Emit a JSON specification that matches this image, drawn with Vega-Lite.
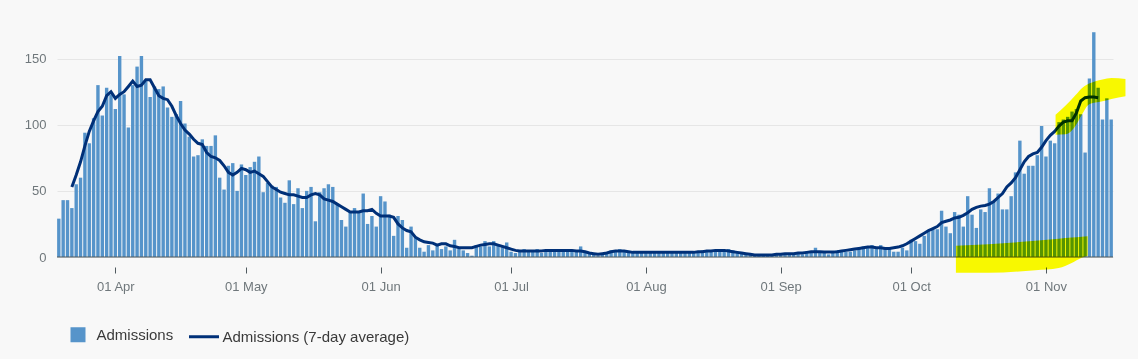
{
  "$schema": "https://vega.github.io/schema/vega-lite/v6.json",
  "width": 1056,
  "height": 238,
  "autosize": {"type": "none"},
  "padding": {"left": 57, "top": 19, "right": 25, "bottom": 102},
  "background": "#f8f8f8",
  "config": {
    "view": {"stroke": null},
    "font": "Liberation Sans",
    "axisX": {"domain": false, "grid": false, "ticks": true, "tickSize": 6, "tickColor": "#505a5f", "offset": 10, "labelPadding": 7, "labelFontSize": 13, "labelColor": "#6f777b", "labelFont": "Liberation Sans"},
    "axisY": {"domain": false, "ticks": false, "tickSize": 0, "labelPadding": 11, "labelFontSize": 13, "labelColor": "#6f777b", "labelFont": "Liberation Sans", "grid": true, "gridColor": "#e6e6e6", "gridWidth": 1}
  },
  "datasets": {
    "adm": [
      {"d":"2020-03-19T00:00","v":29},{"d":"2020-03-20T00:00","v":43},{"d":"2020-03-21T00:00","v":43},
      {"d":"2020-03-22T00:00","v":37,"a":53},{"d":"2020-03-23T00:00","v":55,"a":62},{"d":"2020-03-24T00:00","v":60,"a":72},
      {"d":"2020-03-25T00:00","v":94,"a":84},{"d":"2020-03-26T00:00","v":86,"a":95},{"d":"2020-03-27T00:00","v":105,"a":103},
      {"d":"2020-03-28T00:00","v":130,"a":110},{"d":"2020-03-29T00:00","v":107,"a":114},{"d":"2020-03-30T00:00","v":128,"a":122},
      {"d":"2020-03-31T00:00","v":123,"a":125},
      {"d":"2020-04-01T00:00","v":112,"a":120},{"d":"2020-04-02T00:00","v":152,"a":123},{"d":"2020-04-03T00:00","v":123,"a":125},
      {"d":"2020-04-04T00:00","v":98,"a":129},{"d":"2020-04-05T00:00","v":130,"a":133},{"d":"2020-04-06T00:00","v":144,"a":129},
      {"d":"2020-04-07T00:00","v":152,"a":130},{"d":"2020-04-08T00:00","v":133,"a":134},{"d":"2020-04-09T00:00","v":121,"a":134},
      {"d":"2020-04-10T00:00","v":129,"a":128},{"d":"2020-04-11T00:00","v":127,"a":122},{"d":"2020-04-12T00:00","v":129,"a":120},
      {"d":"2020-04-13T00:00","v":113,"a":119},{"d":"2020-04-14T00:00","v":106,"a":114},{"d":"2020-04-15T00:00","v":108,"a":107},
      {"d":"2020-04-16T00:00","v":118,"a":101},{"d":"2020-04-17T00:00","v":101,"a":96},{"d":"2020-04-18T00:00","v":91,"a":93},
      {"d":"2020-04-19T00:00","v":76,"a":89},{"d":"2020-04-20T00:00","v":77,"a":86},{"d":"2020-04-21T00:00","v":89,"a":85},
      {"d":"2020-04-22T00:00","v":84,"a":79},{"d":"2020-04-23T00:00","v":84,"a":76},{"d":"2020-04-24T00:00","v":92,"a":75},
      {"d":"2020-04-25T00:00","v":60,"a":73},{"d":"2020-04-26T00:00","v":51,"a":69},{"d":"2020-04-27T00:00","v":69,"a":64},
      {"d":"2020-04-28T00:00","v":71,"a":62},{"d":"2020-04-29T00:00","v":50,"a":64},{"d":"2020-04-30T00:00","v":70,"a":67},
      {"d":"2020-05-01T00:00","v":62,"a":66},{"d":"2020-05-02T00:00","v":68,"a":64},{"d":"2020-05-03T00:00","v":72,"a":65},
      {"d":"2020-05-04T00:00","v":76,"a":63},{"d":"2020-05-05T00:00","v":49,"a":61},{"d":"2020-05-06T00:00","v":56,"a":57},
      {"d":"2020-05-07T00:00","v":54,"a":53},{"d":"2020-05-08T00:00","v":53,"a":51},{"d":"2020-05-09T00:00","v":45,"a":49},
      {"d":"2020-05-10T00:00","v":41,"a":48},{"d":"2020-05-11T00:00","v":58,"a":47},{"d":"2020-05-12T00:00","v":40,"a":47},
      {"d":"2020-05-13T00:00","v":52,"a":46},{"d":"2020-05-14T00:00","v":37,"a":45},{"d":"2020-05-15T00:00","v":50,"a":45},
      {"d":"2020-05-16T00:00","v":53,"a":47},{"d":"2020-05-17T00:00","v":27,"a":48},{"d":"2020-05-18T00:00","v":49,"a":47},
      {"d":"2020-05-19T00:00","v":52,"a":44},{"d":"2020-05-20T00:00","v":55,"a":43},{"d":"2020-05-21T00:00","v":53,"a":42},
      {"d":"2020-05-22T00:00","v":40,"a":40},{"d":"2020-05-23T00:00","v":28,"a":38},{"d":"2020-05-24T00:00","v":23,"a":36},
      {"d":"2020-05-25T00:00","v":34,"a":34},{"d":"2020-05-26T00:00","v":37,"a":34},{"d":"2020-05-27T00:00","v":34,"a":34},
      {"d":"2020-05-28T00:00","v":48,"a":35},{"d":"2020-05-29T00:00","v":25,"a":35},{"d":"2020-05-30T00:00","v":31,"a":36},
      {"d":"2020-05-31T00:00","v":23,"a":33},
      {"d":"2020-06-01T00:00","v":46,"a":31},{"d":"2020-06-02T00:00","v":42,"a":31},{"d":"2020-06-03T00:00","v":32,"a":31},
      {"d":"2020-06-04T00:00","v":16,"a":30},{"d":"2020-06-05T00:00","v":31,"a":25},{"d":"2020-06-06T00:00","v":28,"a":22},
      {"d":"2020-06-07T00:00","v":7,"a":20},{"d":"2020-06-08T00:00","v":23,"a":19},{"d":"2020-06-09T00:00","v":15,"a":15},
      {"d":"2020-06-10T00:00","v":7,"a":13},{"d":"2020-06-11T00:00","v":4,"a":11.5},{"d":"2020-06-12T00:00","v":9,"a":11},
      {"d":"2020-06-13T00:00","v":5,"a":10.5},{"d":"2020-06-14T00:00","v":9,"a":9},{"d":"2020-06-15T00:00","v":6,"a":10},
      {"d":"2020-06-16T00:00","v":8,"a":10},{"d":"2020-06-17T00:00","v":5,"a":8.5},{"d":"2020-06-18T00:00","v":13,"a":8},
      {"d":"2020-06-19T00:00","v":6,"a":7},{"d":"2020-06-20T00:00","v":5,"a":7},{"d":"2020-06-21T00:00","v":3,"a":7},
      {"d":"2020-06-22T00:00","v":1,"a":7},{"d":"2020-06-23T00:00","v":9,"a":8},{"d":"2020-06-24T00:00","v":8,"a":9},
      {"d":"2020-06-25T00:00","v":12,"a":9.5},{"d":"2020-06-26T00:00","v":8,"a":10},{"d":"2020-06-27T00:00","v":12,"a":10},
      {"d":"2020-06-28T00:00","v":9,"a":9},{"d":"2020-06-29T00:00","v":8,"a":8},{"d":"2020-06-30T00:00","v":11,"a":7},
      {"d":"2020-07-01T00:00","v":4,"a":6},{"d":"2020-07-02T00:00","v":3,"a":5},{"d":"2020-07-03T00:00","v":5,"a":4.5},
      {"d":"2020-07-04T00:00","v":6,"a":4.5},{"d":"2020-07-05T00:00","v":5,"a":4.5},{"d":"2020-07-06T00:00","v":4,"a":4.5},
      {"d":"2020-07-07T00:00","v":6,"a":4.5},{"d":"2020-07-08T00:00","v":3,"a":4.5},{"d":"2020-07-09T00:00","v":5,"a":5},
      {"d":"2020-07-10T00:00","v":6,"a":5},{"d":"2020-07-11T00:00","v":5,"a":5},{"d":"2020-07-12T00:00","v":4,"a":5},
      {"d":"2020-07-13T00:00","v":6,"a":5},{"d":"2020-07-14T00:00","v":5,"a":5},{"d":"2020-07-15T00:00","v":4,"a":5},
      {"d":"2020-07-16T00:00","v":5,"a":4.5},{"d":"2020-07-17T00:00","v":8,"a":4.5},{"d":"2020-07-18T00:00","v":4,"a":4},
      {"d":"2020-07-19T00:00","v":3,"a":3},{"d":"2020-07-20T00:00","v":2,"a":2.5},{"d":"2020-07-21T00:00","v":1,"a":2},
      {"d":"2020-07-22T00:00","v":2,"a":2.5},{"d":"2020-07-23T00:00","v":3,"a":3},{"d":"2020-07-24T00:00","v":5,"a":4},
      {"d":"2020-07-25T00:00","v":4,"a":4.5},{"d":"2020-07-26T00:00","v":6,"a":4.5},{"d":"2020-07-27T00:00","v":5,"a":4.5},
      {"d":"2020-07-28T00:00","v":3,"a":4},{"d":"2020-07-29T00:00","v":4,"a":3.5},{"d":"2020-07-30T00:00","v":3,"a":3.5},
      {"d":"2020-07-31T00:00","v":4,"a":3.5},
      {"d":"2020-08-01T00:00","v":3,"a":3.5},{"d":"2020-08-02T00:00","v":4,"a":3.5},{"d":"2020-08-03T00:00","v":3,"a":3.5},
      {"d":"2020-08-04T00:00","v":4,"a":3.5},{"d":"2020-08-05T00:00","v":3,"a":3.5},{"d":"2020-08-06T00:00","v":4,"a":3.5},
      {"d":"2020-08-07T00:00","v":3,"a":3.5},{"d":"2020-08-08T00:00","v":3,"a":3.5},{"d":"2020-08-09T00:00","v":4,"a":3.5},
      {"d":"2020-08-10T00:00","v":3,"a":3.5},{"d":"2020-08-11T00:00","v":4,"a":3.5},{"d":"2020-08-12T00:00","v":3,"a":3.5},
      {"d":"2020-08-13T00:00","v":4,"a":4},{"d":"2020-08-14T00:00","v":5,"a":4},{"d":"2020-08-15T00:00","v":4,"a":4.5},
      {"d":"2020-08-16T00:00","v":5,"a":4.5},{"d":"2020-08-17T00:00","v":4,"a":5},{"d":"2020-08-18T00:00","v":5,"a":5},
      {"d":"2020-08-19T00:00","v":4,"a":5},{"d":"2020-08-20T00:00","v":6,"a":4.5},{"d":"2020-08-21T00:00","v":5,"a":4},
      {"d":"2020-08-22T00:00","v":3,"a":3.5},{"d":"2020-08-23T00:00","v":3,"a":3},{"d":"2020-08-24T00:00","v":2,"a":2.5},
      {"d":"2020-08-25T00:00","v":2,"a":2},{"d":"2020-08-26T00:00","v":1,"a":1.5},{"d":"2020-08-27T00:00","v":1,"a":1.5},
      {"d":"2020-08-28T00:00","v":1,"a":1.5},{"d":"2020-08-29T00:00","v":2,"a":1.5},{"d":"2020-08-30T00:00","v":1,"a":1.5},
      {"d":"2020-08-31T00:00","v":2,"a":2},
      {"d":"2020-09-01T00:00","v":2,"a":2},{"d":"2020-09-02T00:00","v":3,"a":2.5},{"d":"2020-09-03T00:00","v":2,"a":2.5},
      {"d":"2020-09-04T00:00","v":3,"a":2.5},{"d":"2020-09-05T00:00","v":3,"a":3},{"d":"2020-09-06T00:00","v":2,"a":3},
      {"d":"2020-09-07T00:00","v":4,"a":3.5},{"d":"2020-09-08T00:00","v":4,"a":4},{"d":"2020-09-09T00:00","v":7,"a":4},
      {"d":"2020-09-10T00:00","v":4,"a":4},{"d":"2020-09-11T00:00","v":3,"a":3.8},{"d":"2020-09-12T00:00","v":2,"a":3.8},
      {"d":"2020-09-13T00:00","v":4,"a":3.8},{"d":"2020-09-14T00:00","v":5,"a":4},{"d":"2020-09-15T00:00","v":5,"a":4.5},
      {"d":"2020-09-16T00:00","v":4,"a":5},{"d":"2020-09-17T00:00","v":4,"a":5.5},{"d":"2020-09-18T00:00","v":5,"a":6},
      {"d":"2020-09-19T00:00","v":7,"a":6.5},{"d":"2020-09-20T00:00","v":8,"a":7},{"d":"2020-09-21T00:00","v":8,"a":7.5},
      {"d":"2020-09-22T00:00","v":9,"a":7.5},{"d":"2020-09-23T00:00","v":6,"a":7},{"d":"2020-09-24T00:00","v":9,"a":7},
      {"d":"2020-09-25T00:00","v":6,"a":6.5},{"d":"2020-09-26T00:00","v":6,"a":6.5},{"d":"2020-09-27T00:00","v":4,"a":7},
      {"d":"2020-09-28T00:00","v":4,"a":7.5},{"d":"2020-09-29T00:00","v":7,"a":8.5},{"d":"2020-09-30T00:00","v":5,"a":10},
      {"d":"2020-10-01T00:00","v":13,"a":12},{"d":"2020-10-02T00:00","v":12,"a":14},{"d":"2020-10-03T00:00","v":10,"a":16},
      {"d":"2020-10-04T00:00","v":16,"a":18},{"d":"2020-10-05T00:00","v":19,"a":20},{"d":"2020-10-06T00:00","v":21,"a":21.5},
      {"d":"2020-10-07T00:00","v":21,"a":23},{"d":"2020-10-08T00:00","v":35,"a":26},{"d":"2020-10-09T00:00","v":23,"a":27},
      {"d":"2020-10-10T00:00","v":18,"a":28},{"d":"2020-10-11T00:00","v":34,"a":29.5},{"d":"2020-10-12T00:00","v":32,"a":30},
      {"d":"2020-10-13T00:00","v":23,"a":31.5},{"d":"2020-10-14T00:00","v":46,"a":33.5},{"d":"2020-10-15T00:00","v":32,"a":36},
      {"d":"2020-10-16T00:00","v":22,"a":37.5},{"d":"2020-10-17T00:00","v":36,"a":38.5},{"d":"2020-10-18T00:00","v":34,"a":39},
      {"d":"2020-10-19T00:00","v":52,"a":40},{"d":"2020-10-20T00:00","v":42,"a":42},{"d":"2020-10-21T00:00","v":48,"a":45},
      {"d":"2020-10-22T00:00","v":36,"a":48},{"d":"2020-10-23T00:00","v":36,"a":53},{"d":"2020-10-24T00:00","v":46,"a":56},
      {"d":"2020-10-25T00:00","v":64,"a":60},{"d":"2020-10-26T00:00","v":88,"a":66},{"d":"2020-10-27T00:00","v":63,"a":72},
      {"d":"2020-10-28T00:00","v":69,"a":76},{"d":"2020-10-29T00:00","v":69,"a":78},{"d":"2020-10-30T00:00","v":77,"a":79},
      {"d":"2020-10-31T00:00","v":99,"a":83},
      {"d":"2020-11-01T00:00","v":76,"a":88},{"d":"2020-11-02T00:00","v":88,"a":92},{"d":"2020-11-03T00:00","v":86,"a":95},
      {"d":"2020-11-04T00:00","v":102,"a":99},{"d":"2020-11-05T00:00","v":104,"a":102},{"d":"2020-11-06T00:00","v":106,"a":103},
      {"d":"2020-11-07T00:00","v":110,"a":103},{"d":"2020-11-08T00:00","v":112,"a":109},{"d":"2020-11-09T00:00","v":108,"a":118},
      {"d":"2020-11-10T00:00","v":79,"a":120.5},{"d":"2020-11-11T00:00","v":135,"a":121},{"d":"2020-11-12T00:00","v":170,"a":121},
      {"d":"2020-11-13T00:00","v":128,"a":120.5},{"d":"2020-11-14T00:00","v":104},{"d":"2020-11-15T00:00","v":120},
      {"d":"2020-11-16T00:00","v":104}
    ],
    "hlb": [
      {"d":"2020-10-11T07:00","hi":8.5,"lo":-12},
      {"d":"2020-10-18T19:00","hi":9.7,"lo":-12},
      {"d":"2020-10-29T14:00","hi":12.3,"lo":-10},
      {"d":"2020-11-03T22:00","hi":13.8,"lo":-8.3},
      {"d":"2020-11-06T22:00","hi":14.7,"lo":-4.5},
      {"d":"2020-11-09T05:00","hi":15.3,"lo":-0.5},
      {"d":"2020-11-10T14:00","hi":15.6,"lo":1}
    ],
    "hlt": [
      {"d":"2020-11-03T05:00","hi":107.6,"lo":92.5},
      {"d":"2020-11-05T12:30","hi":114.5,"lo":92.8},
      {"d":"2020-11-07T19:30","hi":122.5,"lo":99.3},
      {"d":"2020-11-09T04:30","hi":127.5,"lo":107.2},
      {"d":"2020-11-10T19:00","hi":131,"lo":115.2},
      {"d":"2020-11-12T09:30","hi":133,"lo":116.8},
      {"d":"2020-11-14T00:00","hi":134.2,"lo":117.8},
      {"d":"2020-11-16T01:40","hi":135.4,"lo":119.5},
      {"d":"2020-11-19T06:45","hi":134.6,"lo":121.5}
    ]
  },
  "layer": [
    {
      "data": {"name": "adm"},
      "mark": {"type": "bar", "width": 3.4},
      "encoding": {
        "x": {"field": "d", "type": "temporal", "scale": {"domain": [{"year": 2020, "month": 3, "date": 18, "hours": 14}, {"year": 2020, "month": 11, "date": 16, "hours": 10}], "nice": false, "padding": 0}, "axis": {"title": null, "format": "%d %b", "values": [{"year": 2020, "month": 4, "date": 1}, {"year": 2020, "month": 5, "date": 1}, {"year": 2020, "month": 6, "date": 1}, {"year": 2020, "month": 7, "date": 1}, {"year": 2020, "month": 8, "date": 1}, {"year": 2020, "month": 9, "date": 1}, {"year": 2020, "month": 10, "date": 1}, {"year": 2020, "month": 11, "date": 1}]}},
        "y": {"field": "v", "type": "quantitative", "scale": {"domain": [0, 180], "nice": false}, "axis": {"title": null, "values": [0, 50, 100, 150]}},
        "color": {"datum": "Admissions", "scale": {"domain": ["Admissions", "Admissions (7-day average)"], "range": ["#5694ca", "#003078"]},
          "legend": {"title": null, "orient": "none", "legendX": 6, "legendY": 299, "direction": "horizontal", "padding": 0, "labelFontSize": 15, "labelColor": "#3a3a3a", "labelFont": "Liberation Sans", "labelOffset": 2, "symbolOffset": -1.5, "columnPadding": 9, "symbolSize": 900, "symbolStrokeWidth": 3, "labelLimit": 0,
            "encode": {"symbols": {"update": {
              "shape": {"signal": "datum.value === 'Admissions' ? 'M-0.4,-0.4H0.4V0.4H-0.4Z' : 'stroke'"},
              "fill": {"signal": "datum.value === 'Admissions' ? '#5694ca' : 'transparent'"},
              "stroke": {"signal": "datum.value === 'Admissions' ? 'transparent' : '#003078'"},
              "opacity": {"value": 1}
            }}}}}
      }
    },
    {
      "data": {"values": [{}]},
      "mark": {"type": "rule", "color": "#505a5f", "strokeWidth": 1},
      "encoding": {
        "y": {"datum": 0, "type": "quantitative", "scale": {"domain": [0, 180], "nice": false}, "axis": {"title": null, "values": [0, 50, 100, 150]}}
      }
    },
    {
      "data": {"name": "adm"},
      "mark": {"type": "line", "strokeWidth": 3},
      "encoding": {
        "x": {"field": "d", "type": "temporal", "scale": {"domain": [{"year": 2020, "month": 3, "date": 18, "hours": 14}, {"year": 2020, "month": 11, "date": 16, "hours": 10}], "nice": false, "padding": 0}, "axis": {"title": null, "format": "%d %b", "values": [{"year": 2020, "month": 4, "date": 1}, {"year": 2020, "month": 5, "date": 1}, {"year": 2020, "month": 6, "date": 1}, {"year": 2020, "month": 7, "date": 1}, {"year": 2020, "month": 8, "date": 1}, {"year": 2020, "month": 9, "date": 1}, {"year": 2020, "month": 10, "date": 1}, {"year": 2020, "month": 11, "date": 1}]}},
        "y": {"field": "a", "type": "quantitative", "scale": {"domain": [0, 180], "nice": false}, "axis": {"title": null, "values": [0, 50, 100, 150]}},
        "color": {"datum": "Admissions (7-day average)", "scale": {"domain": ["Admissions", "Admissions (7-day average)"], "range": ["#5694ca", "#003078"]},
          "legend": {"title": null, "orient": "none", "legendX": 6, "legendY": 299, "direction": "horizontal", "padding": 0, "labelFontSize": 15, "labelColor": "#3a3a3a", "labelFont": "Liberation Sans", "labelOffset": 2, "symbolOffset": -1.5, "columnPadding": 9, "symbolSize": 900, "symbolStrokeWidth": 3, "labelLimit": 0,
            "encode": {"symbols": {"update": {
              "shape": {"signal": "datum.value === 'Admissions' ? 'M-0.4,-0.4H0.4V0.4H-0.4Z' : 'stroke'"},
              "fill": {"signal": "datum.value === 'Admissions' ? '#5694ca' : 'transparent'"},
              "stroke": {"signal": "datum.value === 'Admissions' ? 'transparent' : '#003078'"},
              "opacity": {"value": 1}
            }}}}}
      }
    },
    {
      "data": {"name": "hlb"},
      "mark": {"type": "area", "color": "#ffff00", "blend": "multiply", "opacity": 1, "interpolate": "monotone"},
      "encoding": {
        "x": {"field": "d", "type": "temporal", "scale": {"domain": [{"year": 2020, "month": 3, "date": 18, "hours": 14}, {"year": 2020, "month": 11, "date": 16, "hours": 10}], "nice": false, "padding": 0}, "axis": {"title": null, "format": "%d %b", "values": [{"year": 2020, "month": 4, "date": 1}, {"year": 2020, "month": 5, "date": 1}, {"year": 2020, "month": 6, "date": 1}, {"year": 2020, "month": 7, "date": 1}, {"year": 2020, "month": 8, "date": 1}, {"year": 2020, "month": 9, "date": 1}, {"year": 2020, "month": 10, "date": 1}, {"year": 2020, "month": 11, "date": 1}]}},
        "y": {"field": "hi", "type": "quantitative", "scale": {"domain": [0, 180], "nice": false}, "axis": {"title": null, "values": [0, 50, 100, 150]}},
        "y2": {"field": "lo"}
      }
    },
    {
      "data": {"name": "hlt"},
      "mark": {"type": "area", "color": "#ffff00", "blend": "multiply", "opacity": 1, "interpolate": "monotone"},
      "encoding": {
        "x": {"field": "d", "type": "temporal", "scale": {"domain": [{"year": 2020, "month": 3, "date": 18, "hours": 14}, {"year": 2020, "month": 11, "date": 16, "hours": 10}], "nice": false, "padding": 0}, "axis": {"title": null, "format": "%d %b", "values": [{"year": 2020, "month": 4, "date": 1}, {"year": 2020, "month": 5, "date": 1}, {"year": 2020, "month": 6, "date": 1}, {"year": 2020, "month": 7, "date": 1}, {"year": 2020, "month": 8, "date": 1}, {"year": 2020, "month": 9, "date": 1}, {"year": 2020, "month": 10, "date": 1}, {"year": 2020, "month": 11, "date": 1}]}},
        "y": {"field": "hi", "type": "quantitative", "scale": {"domain": [0, 180], "nice": false}, "axis": {"title": null, "values": [0, 50, 100, 150]}},
        "y2": {"field": "lo"}
      }
    }
  ]
}
